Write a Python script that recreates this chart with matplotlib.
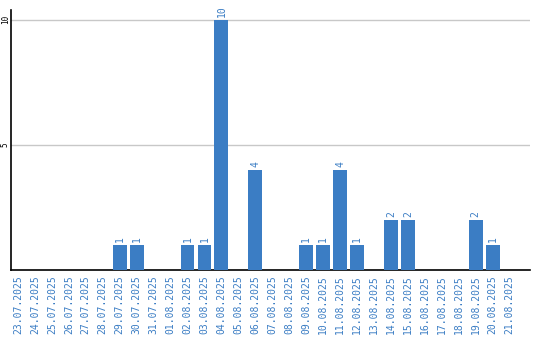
import matplotlib
matplotlib.use("Agg")
import matplotlib.pyplot as plt
import numpy as np

dates = ["23.07.2025", "24.07.2025", "25.07.2025", "26.07.2025", "27.07.2025",
         "28.07.2025", "29.07.2025", "30.07.2025", "31.07.2025", "01.08.2025",
         "02.08.2025", "03.08.2025", "04.08.2025", "05.08.2025", "06.08.2025",
         "07.08.2025", "08.08.2025", "09.08.2025", "10.08.2025", "11.08.2025",
         "12.08.2025", "13.08.2025", "14.08.2025", "15.08.2025", "16.08.2025",
         "17.08.2025", "18.08.2025", "19.08.2025", "20.08.2025", "21.08.2025"]
counts = [0, 0, 0, 0, 0, 0, 1, 1, 0, 0,
          1, 1, 10, 0, 4, 0, 0, 1, 1, 4,
          1, 0, 2, 2, 0, 0, 0, 2, 1, 0]
yTicks = [5, 10]

barColor = "#3b7dc4"
plt.rcParams['font.family'] = ['DejaVu Sans Mono']

fig = plt.figure(figsize=(5.4, 3.4), dpi=100)
ax = fig.add_axes([0.0204, 0.206, 0.9611, 0.765])

xs = np.arange(len(dates))
ax.bar(xs, counts, width=0.82, color=barColor, zorder=3)
for x, c in zip(xs, counts):
    if c > 0:
        ax.text(x, c + 0.1, str(c), rotation=90, ha="center", va="bottom",
                color=barColor, fontsize=7)

ax.set_xlim(-0.41, 30.2)
ax.set_ylim(0, 10.4)
ax.set_xticks(xs)
ax.set_xticklabels(dates, rotation=90, color=barColor, fontsize=7)
ax.set_yticks(yTicks)
ax.set_yticklabels([str(t) for t in yTicks], rotation=90, va="center", fontsize=5.5)
ax.tick_params(axis="x", length=0, pad=4)
ax.tick_params(axis="y", length=0, pad=1)
ax.grid(axis="y", color="#c8c8c8", lw=1, zorder=0)
ax.spines["top"].set_visible(False)
ax.spines["right"].set_visible(False)
ax.spines["left"].set_linewidth(1.2)
ax.spines["bottom"].set_linewidth(1.2)

fig.savefig("out.png", dpi=100)
